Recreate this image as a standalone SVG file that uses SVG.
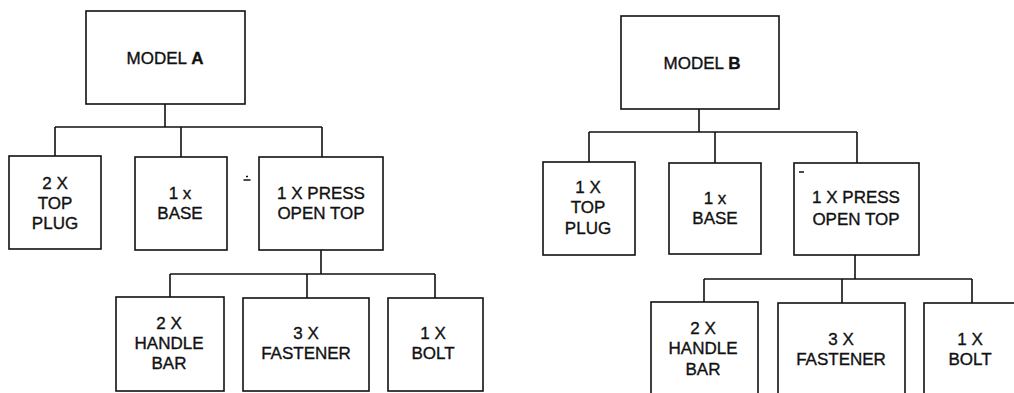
<svg xmlns="http://www.w3.org/2000/svg" width="1014" height="393" viewBox="0 0 1014 393">
<style>
.box{fill:#fff;stroke:#111;stroke-width:1.6}
.ln{fill:none;stroke:#111;stroke-width:1.6}
text{font-family:"Liberation Sans",Arial,sans-serif;font-size:17px;fill:#111;stroke:#111;stroke-width:0.35;text-anchor:middle;dominant-baseline:central}
</style>
<rect width="1014" height="393" fill="#fff"/>
<g id="connectors">
<path class="ln" d="M165 104V127M55 127H322M55 127V156M181 127V157M322 127V157"/>
<path class="ln" d="M321 250V274M170 274H435M170 274V297M307 274V298M435 274V298"/>
<path class="ln" d="M699 109V132M589 132H857M589 132V162M715 132V163M857 132V163"/>
<path class="ln" d="M855 255V279M704 279H972M704 279V302M842 279V303M972 279V303"/>
</g>
<g id="modelA">
<rect class="box" x="86" y="11" width="159" height="93"/>
<text x="165" y="58">MODEL <tspan font-weight="bold">A</tspan></text>
</g>
<g id="a_topplug">
<rect class="box" x="9" y="156" width="92" height="93"/>
<text x="55" y="183">2 X</text><text x="55" y="203">TOP</text><text x="55" y="223">PLUG</text>
</g>
<g id="a_base">
<rect class="box" x="135" y="157" width="92" height="93"/>
<text x="180" y="193">1 x</text><text x="180" y="213">BASE</text>
</g>
<g id="a_press">
<rect class="box" x="259" y="157" width="124" height="93"/>
<text x="321" y="193">1 X PRESS</text><text x="321" y="213">OPEN TOP</text>
</g>
<g id="a_handle">
<rect class="box" x="116" y="297" width="108" height="94"/>
<text x="169" y="323">2 X</text><text x="169" y="343">HANDLE</text><text x="169" y="363">BAR</text>
</g>
<g id="a_fastener">
<rect class="box" x="243" y="298" width="126" height="93"/>
<text x="306" y="333">3 X</text><text x="306" y="353">FASTENER</text>
</g>
<g id="a_bolt">
<rect class="box" x="388" y="298" width="95" height="93"/>
<text x="433" y="333">1 X</text><text x="433" y="353">BOLT</text>
</g>
<g id="modelB">
<rect class="box" x="621" y="16" width="158" height="93"/>
<text x="702" y="63">MODEL <tspan font-weight="bold">B</tspan></text>
</g>
<g id="b_topplug">
<rect class="box" x="543" y="162" width="92" height="93"/>
<text x="588" y="187">1 X</text><text x="588" y="207">TOP</text><text x="588" y="228">PLUG</text>
</g>
<g id="b_base">
<rect class="box" x="669" y="163" width="92" height="91"/>
<text x="715" y="198">1 x</text><text x="715" y="218">BASE</text>
</g>
<g id="b_press">
<rect class="box" x="794" y="163" width="125" height="92"/>
<text x="856" y="197">1 X PRESS</text><text x="856" y="219">OPEN TOP</text>
</g>
<g id="b_handle">
<rect class="box" x="651" y="302" width="107" height="100"/>
<text x="703" y="328">2 X</text><text x="703" y="348">HANDLE</text><text x="703" y="369">BAR</text>
</g>
<g id="b_fastener">
<rect class="box" x="778" y="303" width="127" height="100"/>
<text x="841" y="339">3 X</text><text x="841" y="359">FASTENER</text>
</g>
<g id="b_bolt">
<rect class="box" x="924" y="303" width="100" height="100"/>
<text x="970" y="339">1 X</text><text x="970" y="359">BOLT</text>
</g>
<path class="ln" d="M243.5 180H250.5M246 176.5H248M799 172H804" stroke-width="1.6"/>
</svg>
